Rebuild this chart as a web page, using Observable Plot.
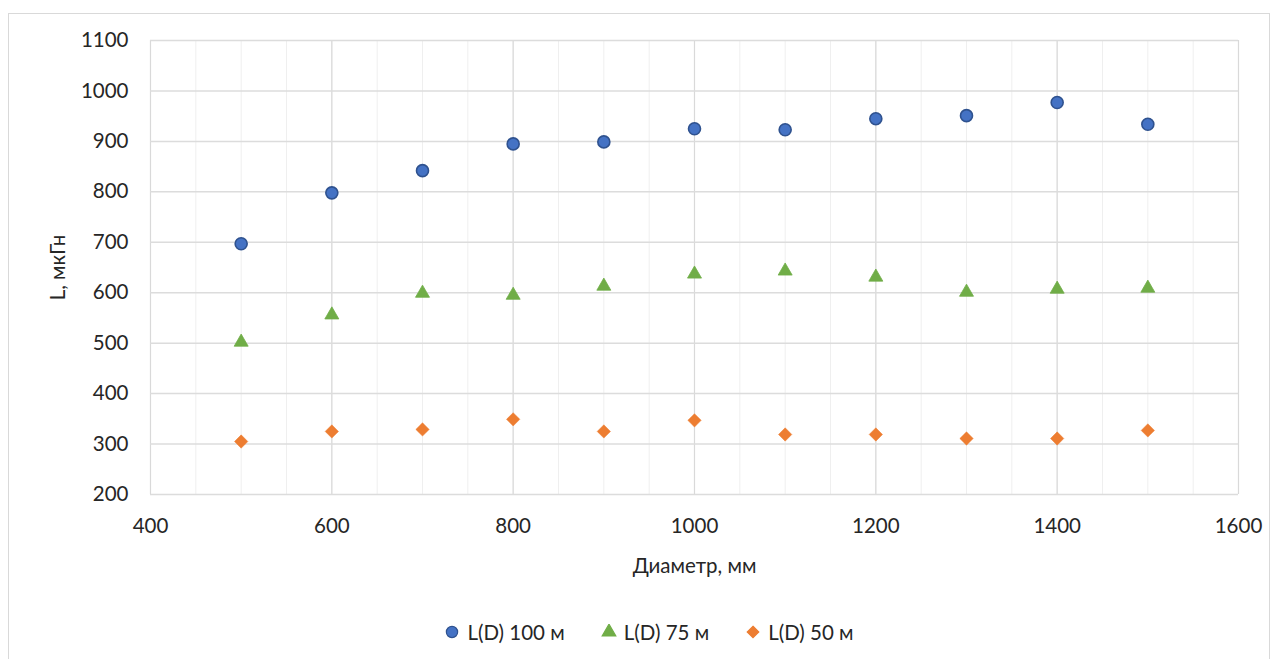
<!DOCTYPE html>
<html>
<head>
<meta charset="utf-8">
<script src="https://cdn.jsdelivr.net/npm/d3@7"></script>
<script src="https://cdn.jsdelivr.net/npm/@observablehq/plot@0.6"></script>
<style>
  html, body { margin: 0; padding: 0; background: #fff; overflow: hidden; }
  #frame { position: absolute; left: 8px; top: 13px; width: 1262px; height: 700px; border: 1.5px solid #d9d9d9; box-sizing: border-box; }
  #chart { position: absolute; left: 0; top: 0; }
  #legend { position: absolute; left: 0; top: 612px; width: 1280px; height: 40px; display: flex; justify-content: center; align-items: center; gap: 36px; font-family: Lato, sans-serif; font-size: 20.5px; color: #262626; padding-left: 18px; box-sizing: border-box; }
  .item { display: flex; align-items: center; gap: 7px; }
</style>
</head>
<body>
<div id="frame"></div>
<div id="chart"></div>
<div id="legend"></div>
<script>
const diameters = [500, 600, 700, 800, 900, 1000, 1100, 1200, 1300, 1400, 1500];
const l100 = [697, 798, 842, 895, 899, 925, 923, 945, 951, 977, 934];
const l75  = [502, 556, 599, 595, 613, 637, 643, 631, 601, 607, 609];
const l50  = [305, 325, 329, 349, 325, 347, 319, 319, 311, 311, 327];
const seriesNames = ["L(D) 100 м", "L(D) 75 м", "L(D) 50 м"];
const xTicks = [400, 600, 800, 1000, 1200, 1400, 1600];
const xMinor = d3.range(400, 1601, 50);
const yTicks = [200, 300, 400, 500, 600, 700, 800, 900, 1000, 1100];

const rows = (vals) => diameters.map((d, i) => ({x: d, y: vals[i]}));

const chart = Plot.plot({
  width: 1280,
  height: 612,
  marginLeft: 150,
  marginRight: 42,
  marginTop: 40,
  marginBottom: 118,
  style: {fontFamily: "Lato, sans-serif", fontSize: "20.5px", color: "#262626", background: "transparent"},
  x: {domain: [400, 1600]},
  y: {domain: [200, 1100]},
  marks: [
    Plot.ruleX(xMinor, {stroke: "#efefef", strokeWidth: 1}),
    Plot.ruleX(xTicks, {stroke: "#d9d9d9", strokeWidth: 1.2}),
    Plot.ruleY(yTicks, {stroke: "#dcdcdc", strokeWidth: 1.5}),
    Plot.axisX({ticks: xTicks, tickFormat: d => String(d), tickSize: 0, tickPadding: 24, label: "Диаметр, мм", labelAnchor: "center", labelArrow: "none", labelOffset: 78}),
    Plot.axisY({ticks: yTicks, tickFormat: d => String(d), tickSize: 0, tickPadding: 22, label: "L, мкГн", labelAnchor: "center", labelArrow: "none", labelOffset: 100}),
    Plot.dot(rows(l100), {x: "x", y: "y", r: 6, fill: "#4472c4", stroke: "#2f528f", strokeWidth: 1.6}),
    Plot.dot(rows(l75), {x: "x", y: "y", symbol: "triangle", r: 5.2, fill: "#70ad47", stroke: "#70ad47", strokeWidth: 0.8}),
    Plot.dot(rows(l50), {x: "x", y: "y", symbol: "diamond2", r: 6, fill: "#ed7d31", stroke: "#ed7d31", strokeWidth: 0.5})
  ]
});
document.getElementById("chart").appendChild(chart);

const legend = document.getElementById("legend");
const swatches = [
  {symbol: d3.symbolCircle, size: 100, fill: "#4472c4", stroke: "#2f528f"},
  {symbol: d3.symbolTriangle, size: 80, fill: "#70ad47", stroke: "#70ad47"},
  {symbol: d3.symbolDiamond2, size: 85, fill: "#ed7d31", stroke: "#ed7d31"}
];
seriesNames.forEach((name, i) => {
  const item = document.createElement("div");
  item.className = "item";
  const s = swatches[i];
  const svg = d3.create("svg").attr("width", 16).attr("height", 16);
  svg.append("path").attr("transform", "translate(8,8)").attr("d", d3.symbol(s.symbol, s.size)())
    .attr("fill", s.fill).attr("stroke", s.stroke).attr("stroke-width", 1.2);
  item.appendChild(svg.node());
  const t = document.createElement("span");
  t.textContent = name;
  item.appendChild(t);
  legend.appendChild(item);
});
</script>
</body>
</html>
